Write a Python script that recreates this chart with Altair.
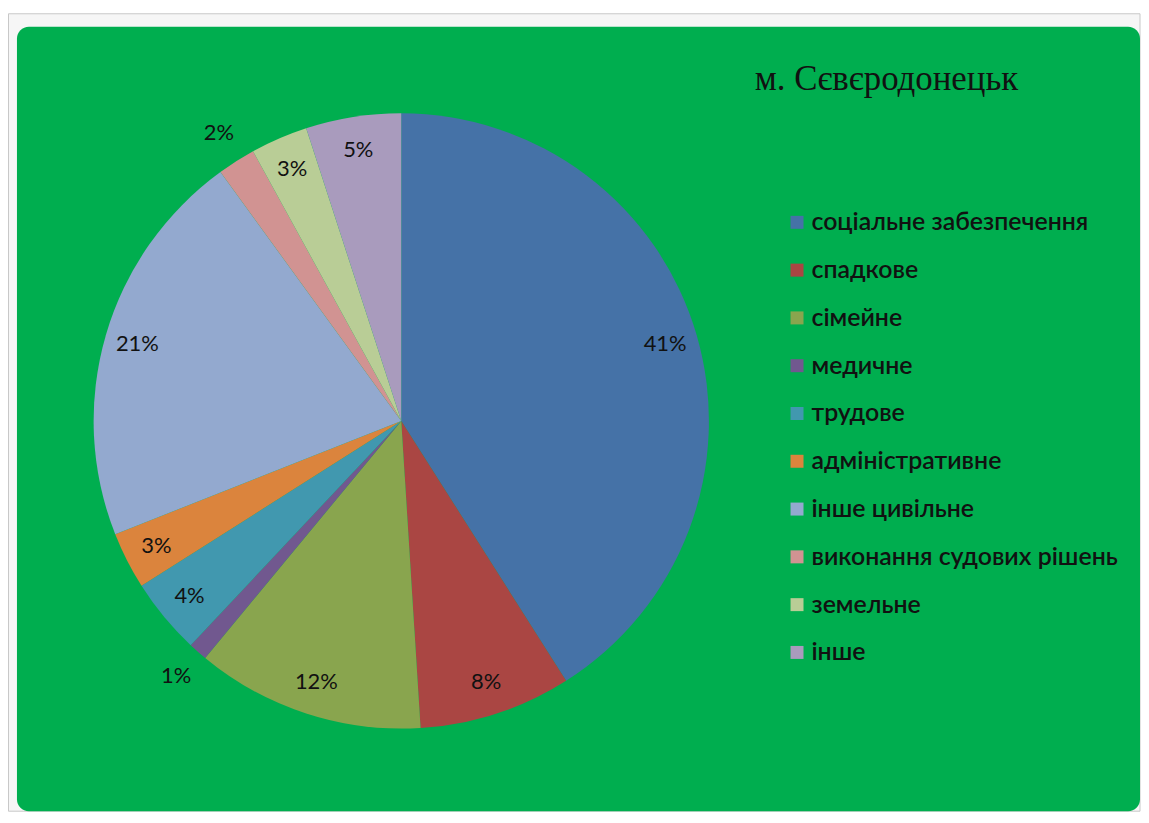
import altair as alt
import pandas as pd

categories = ["соціальне забезпечення", "спадкове", "сімейне", "медичне", "трудове",
              "адміністративне", "інше цивільне", "виконання судових рішень", "земельне", "інше"]
values = [41, 8, 12, 1, 4, 3, 21, 2, 3, 5]
colors = ["#4572A7", "#AA4643", "#89A54E", "#71588F", "#4198AF",
          "#DB843D", "#93A9CF", "#D19392", "#B9CD96", "#A99BBD"]
title_text = "м. Сєвєродонецьк"

df = pd.DataFrame({
    "cat": categories,
    "value": values,
    "idx": list(range(len(categories))),
    "label": [f"{v}%" for v in values],
})
total = sum(values)

CX, CY, R = 395, 413, 309
one = pd.DataFrame({"a": [0]})

frame = alt.Chart(one).mark_rect(fill="#f6f6f6", stroke="#c8c8c8", strokeWidth=1).encode(
    x=alt.value(0.5), x2=alt.value(1137), y=alt.value(4), y2=alt.value(805))
panel = alt.Chart(one).mark_rect(fill="#00AE4F", cornerRadius=12).encode(
    x=alt.value(9), x2=alt.value(1137), y=alt.value(17), y2=alt.value(805))

base = alt.Chart(df).transform_window(
    cum="sum(value)", sort=[alt.SortField("idx", order="ascending")],
    frame=[None, 0],
).transform_calculate(
    start="datum.cum - datum.value",
    mid="datum.cum - datum.value / 2",
    lr="datum.value <= 2 ? 342 : 276",
)

theta_scale = alt.Scale(domain=[0, total])

pie = base.mark_arc(radius=R).encode(
    x=alt.value(CX), y=alt.value(CY),
    theta=alt.Theta("start:Q", scale=theta_scale, stack=None),
    theta2="cum:Q",
    color=alt.Color("cat:N", sort=categories,
                    scale=alt.Scale(domain=categories, range=colors),
                    legend=alt.Legend(title=None, orient="none", legendX=780, legendY=201,
                                      symbolType="square", symbolSize=170, symbolStrokeWidth=0,
                                      labelFont="Lato", labelFontSize=25, labelColor="#111",
                                      labelFontWeight=600, rowPadding=22, labelOffset=2,
                                      labelLimit=400)),
)

text = base.mark_text(font="Lato", fontSize=22, color="#111").encode(
    x=alt.value(CX), y=alt.value(CY),
    theta=alt.Theta("mid:Q", scale=theta_scale, stack=None),
    radius=alt.Radius("lr:Q", scale=None),
    text="label:N",
)

title = alt.Chart(one).mark_text(text=title_text, font="Liberation Serif", fontSize=35,
                                  color="#111", align="left", baseline="alphabetic").encode(
    x=alt.value(750), y=alt.value(81))

chart = alt.layer(frame, panel, pie, text, title).properties(
    width=1138, height=806, padding=0, autosize=alt.AutoSizeParams(type="none"),
).configure_view(stroke=None)

chart.save("out.html", embed_options={"renderer": "svg", "actions": False})
